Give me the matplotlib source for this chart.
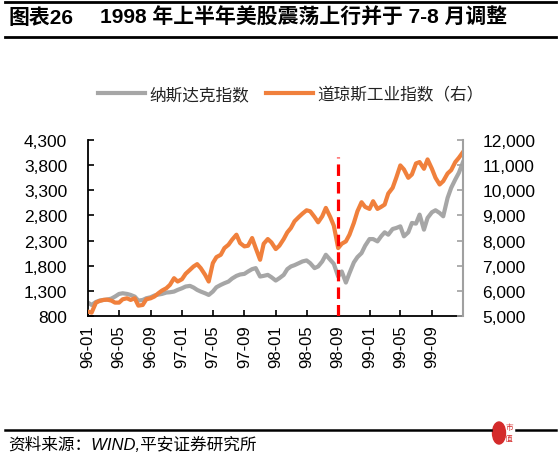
import matplotlib
matplotlib.use('Agg')
import matplotlib.pyplot as plt
import matplotlib.ticker as mticker
import matplotlib.patches as mpatches
from matplotlib.lines import Line2D
import pandas as pd

plt.rcParams['font.family'] = ['Liberation Sans', 'Noto Sans CJK SC', 'DejaVu Sans']

# ---- data (semi-monthly) ----
nasdaq = [1066, 1020, 1079, 1106, 1119, 1126, 1146, 1186, 1239, 1252,
          1239, 1219, 1186, 1106, 1119, 1153, 1173, 1206, 1226, 1239,
          1266, 1272, 1286, 1319, 1352, 1386, 1399, 1366, 1319, 1286,
          1252, 1219, 1286, 1372, 1419, 1452, 1485, 1545, 1598, 1625,
          1638, 1685, 1732, 1752, 1585, 1598, 1618, 1572, 1505, 1552,
          1618, 1732, 1785, 1811, 1851, 1885, 1905, 1851, 1752, 1785,
          1885, 2018, 1918, 1838, 1585, 1685, 1465, 1652, 1865, 1971,
          2051, 2197, 2330, 2330, 2284, 2384, 2464, 2417, 2530, 2550,
          2583, 2384, 2464, 2650, 2637, 2816, 2517, 2750, 2863, 2903,
          2849, 2783, 3149, 3349, 3515, 3648, 3861]
dow = [5173, 5133, 5532, 5599, 5639, 5652, 5612, 5532, 5532, 5665,
       5705, 5639, 5705, 5412, 5439, 5665, 5705, 5772, 5905, 6011,
       6105, 6238, 6504, 6371, 6464, 6677, 6837, 6970, 7063, 6903,
       6637, 6371, 7103, 7342, 7435, 7701, 7835, 8034, 8234, 7901,
       7768, 7795, 8101, 7701, 7236, 7874, 8061, 7928, 7662, 7795,
       8061, 8327, 8500, 8766, 8939, 9072, 9205, 9165, 8939, 8726,
       8966, 9299, 8939, 8593, 7701, 7874, 7968, 8234, 8700, 9165,
       9525, 9339, 9259, 9565, 9259, 9339, 9432, 9871, 10097, 10496,
       10989, 10830, 10496, 10629, 11068, 11122, 10855, 11228, 10855, 10496,
       10230, 10363, 10669, 10802, 11122, 11295, 11521]
dates = list(pd.date_range('1996-01-01', periods=96, freq='SMS')) + [pd.Timestamp('1999-12-31')]

tick_labels = ['96-01', '96-05', '96-09', '97-01', '97-05', '97-09',
               '98-01', '98-05', '98-09', '99-01', '99-05', '99-09']
tick_dates = [pd.Timestamp('19' + t[:2] + '-' + t[3:] + '-01') for t in tick_labels]
left_ticks = [800, 1300, 1800, 2300, 2800, 3300, 3800, 4300]
right_ticks = [5000, 6000, 7000, 8000, 9000, 10000, 11000, 12000]
event_date = pd.Timestamp('1998-09-01')

series_names = ['纳斯达克指数', '道琼斯工业指数（右）']
title_num = '图表26'
title_text = '1998 年上半年美股震荡上行并于 7-8 月调整'
source_text = '资料来源：WIND,平安证券研究所'

GRAY = '#A6A6A6'
ORANGE = '#F0803C'

W, H = 560, 456
fig = plt.figure(figsize=(W / 100, H / 100), dpi=100)

def fx(px):
    return px / W

def fy(py):
    return 1 - py / H

ax = fig.add_axes([fx(88), fy(317), fx(463 - 88), (317 - 141) / H])
ax2 = ax.twinx()

ax.plot(dates, nasdaq, color=GRAY, lw=3.0, solid_joinstyle='round')
ax2.plot(dates, dow, color=ORANGE, lw=3.0, solid_joinstyle='round')
ax2.axvline(event_date, ymin=0, ymax=(317 - 158) / 176, color='#FF0000', lw=2.3,
            dashes=(3.6, 1.9))

ax.set_xlim(pd.Timestamp('1996-01-01'), pd.Timestamp('1999-12-31'))
ax.set_ylim(800, 4300)
ax2.set_ylim(5000, 12000)

ax.set_yticks(left_ticks)
ax2.set_yticks(right_ticks)
fmt = mticker.FuncFormatter(lambda v, p: f'{v:,.0f}')
ax.yaxis.set_major_formatter(fmt)
ax2.yaxis.set_major_formatter(fmt)
ax.set_xticks(tick_dates)
ax.set_xticklabels(tick_labels, rotation=90)

for a in (ax, ax2):
    a.spines['top'].set_visible(False)
ax.spines['right'].set_visible(False)
ax2.spines['left'].set_visible(False)
ax2.spines['bottom'].set_visible(False)
ax.spines['left'].set_linewidth(1.3)
ax.spines['bottom'].set_linewidth(1.3)
ax2.spines['right'].set_color('#A0A0A0')
ax2.spines['right'].set_linewidth(1.5)

ax.tick_params(axis='y', direction='in', length=4, width=1.2, pad=15, labelsize=12.5)
ax.tick_params(axis='x', direction='in', length=4, width=1.2, pad=6, labelsize=12)
ax2.tick_params(axis='y', direction='in', length=4, width=1.2, color='#A0A0A0',
                pad=14, labelsize=12.5)

# legend
handles = [Line2D([], [], color=GRAY, lw=3), Line2D([], [], color=ORANGE, lw=3)]
fig.legend(handles, series_names, loc='center', bbox_to_anchor=(fx(291), fy(95)),
           ncol=2, frameon=False, fontsize=12, handlelength=2.8, handletextpad=0.3,
           columnspacing=1.0, labelcolor='#222222')

# title and rules
fig.text(fx(9), fy(18), title_num, fontsize=15, fontweight='bold', va='center', ha='left')
fig.text(fx(100), fy(18), title_text, fontsize=15, fontweight='bold', va='center', ha='left')
fig.add_artist(Line2D([fx(5), fx(556)], [fy(3), fy(3)], color='black', lw=2))
fig.add_artist(Line2D([fx(5), fx(556)], [fy(37.5), fy(37.5)], color='black', lw=2))
fig.add_artist(Line2D([fx(5), fx(491)], [fy(431), fy(431)], color='black', lw=1.8))
fig.add_artist(Line2D([fx(516), fx(556)], [fy(431), fy(431)], color='black', lw=1.8))

# source
fig.text(fx(8), fy(445), source_text, fontsize=12, style='italic', va='center', ha='left')

# small logo mark
fig.add_artist(mpatches.Ellipse((fx(499), fy(434)), 13 / W, 22 / H, color='#D42A2A',
                                transform=fig.transFigure))
fig.text(fx(509), fy(428), '市', fontsize=5.5, color='#D42A2A', va='center', ha='center')
fig.text(fx(509), fy(439), '值', fontsize=5.5, color='#D42A2A', va='center', ha='center')

fig.savefig('out.png', dpi=100)
